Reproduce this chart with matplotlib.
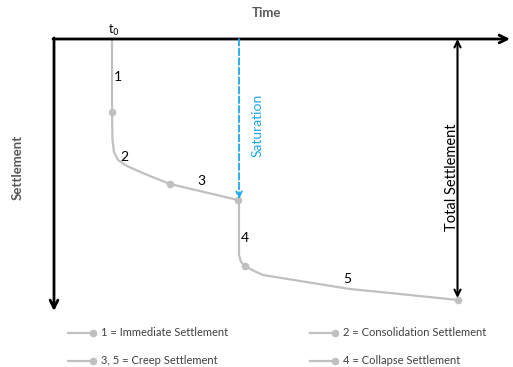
import matplotlib.pyplot as plt
import numpy as np

plt.rcParams['font.family'] = ['Lato', 'DejaVu Sans']

# settlement curve (time to the right, settlement downwards)
curve_t = [58, 58, 58.5, 60, 64, 73, 91, 116, 184, 185, 185, 187, 191, 198, 209, 246, 296, 346, 404]
curve_s = [0, 73, 101, 113, 121, 127, 135, 145, 161, 164, 216, 223, 227, 231, 236, 242, 250, 255, 261]
stage_t = [58, 116, 184, 191, 404]
stage_s = [73, 145, 161, 227, 261]
stage_labels = ['1', '2', '3', '4', '5']
stage_label_t = [64, 70, 147, 191, 293]
stage_label_s = [38, 118, 142, 199, 240]

t_saturation = 185
s_saturation = 160
t_end = 404
s_total = 261

legend_labels = ['1 = Immediate Settlement', '2 = Consolidation Settlement',
                 '3, 5 = Creep Settlement', '4 = Collapse Settlement']

grey = '#c0c0c0'
blue = '#1ea7ea'

fig = plt.figure(figsize=(5.13, 3.67), dpi=100)
ax = fig.add_axes([0, 0, 1, 1])
ax.set_xlim(-54, 459)
ax.set_ylim(328, -39)
ax.axis('off')

# axes with arrows
ax.annotate('', xy=(456, 0), xytext=(-1, 0),
            arrowprops=dict(arrowstyle='->', lw=2, color='black',
                            mutation_scale=14, shrinkA=0, shrinkB=0))
ax.annotate('', xy=(0, 272), xytext=(0, -1),
            arrowprops=dict(arrowstyle='->', lw=2, color='black',
                            mutation_scale=14, shrinkA=0, shrinkB=0))
ax.text(212, -26, 'Time', ha='center', va='center', fontsize=9.5,
        fontweight='bold', color='#595959')
ax.text(-36, 128, 'Settlement', ha='center', va='center', fontsize=9.5,
        fontweight='bold', color='#595959', rotation=90)
ax.text(60, -9, 't$_0$', ha='center', va='center', fontsize=9)

# curve
ax.plot(curve_t, curve_s, color=grey, lw=1.6, zorder=2)
ax.scatter(stage_t, stage_s, s=30, color=grey, zorder=3, linewidths=0)
for lab, x, y in zip(stage_labels, stage_label_t, stage_label_s):
    ax.text(x, y, lab, ha='center', va='center', fontsize=10)

# saturation
ax.annotate('', xy=(t_saturation, s_saturation), xytext=(t_saturation, 0),
            arrowprops=dict(arrowstyle='->', lw=1.3, color=blue, ls='--',
                            mutation_scale=10, shrinkA=0, shrinkB=0))
ax.text(t_saturation + 19, 86, 'Saturation', ha='center', va='center',
        fontsize=10, color=blue, rotation=90)

# total settlement
ax.annotate('', xy=(t_end - 0.5, s_total - 2), xytext=(t_end - 0.5, 0),
            arrowprops=dict(arrowstyle='<->', lw=1.5, color='black',
                            mutation_scale=11, shrinkA=0, shrinkB=0))
ax.text(t_end - 6, 138, 'Total Settlement', ha='center', va='center',
        fontsize=10.5, rotation=90)

# legend
leg_x = [14, 256]
leg_y = [294, 322]
for i, lab in enumerate(legend_labels):
    x0 = leg_x[i % 2]
    y0 = leg_y[i // 2]
    ax.plot([x0, x0 + 25], [y0, y0], color=grey, lw=1.6)
    ax.scatter([x0 + 25], [y0], s=30, color=grey, linewidths=0)
    ax.text(x0 + 33, y0, lab, ha='left', va='center', fontsize=8,
            color='#404040')

fig.savefig('out.png', dpi=100)
